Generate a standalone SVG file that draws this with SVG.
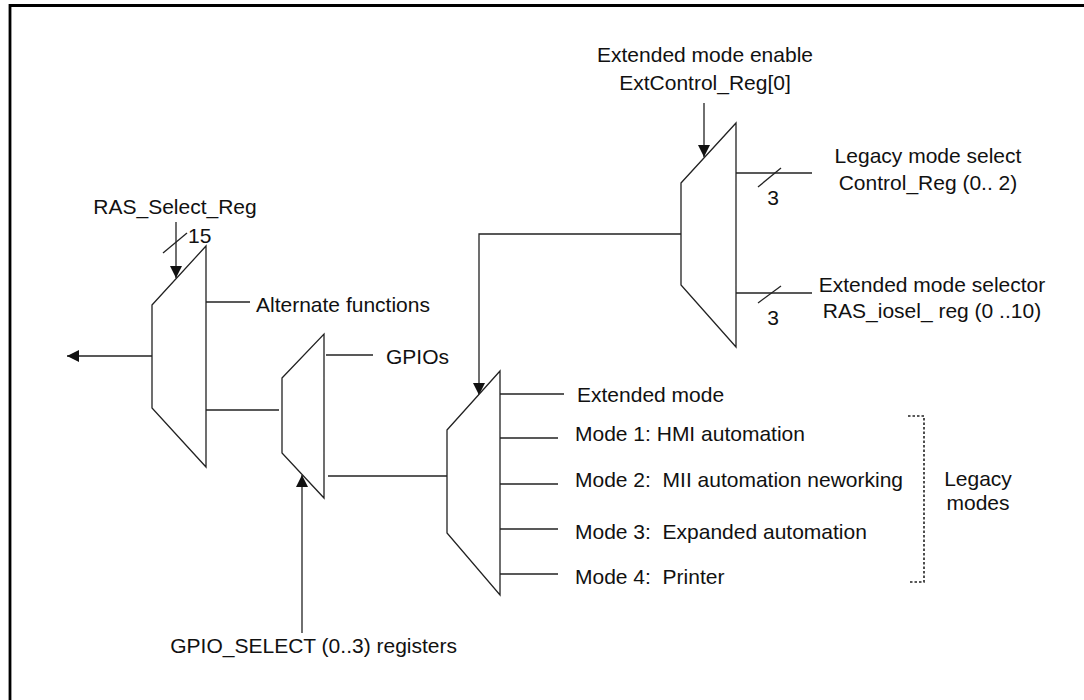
<svg xmlns="http://www.w3.org/2000/svg" width="1084" height="700" viewBox="0 0 1084 700">
<style>
.ln{fill:none;stroke:#222;stroke-width:1.3}
.mux{fill:#fff;stroke:#222;stroke-width:1.3}
.t{font-family:"Liberation Sans",Arial,sans-serif;font-size:21px;fill:#111;white-space:pre}
.m{text-anchor:middle}
.e{text-anchor:end}
.dot{fill:none;stroke:#222;stroke-width:1.6;stroke-dasharray:2.5 2}
</style>
<defs>
<marker id="ah" viewBox="0 0 12 12" refX="12" refY="6" markerWidth="12" markerHeight="12" markerUnits="userSpaceOnUse" orient="auto">
<path d="M0,0 L12,6 L0,12 Z" fill="#111"/>
</marker>
</defs>
<rect width="1084" height="700" fill="#fff"/>
<g id="frame">
<path d="M10,700 V5.5 H1084" fill="none" stroke="#000" stroke-width="2.8"/>
</g>
<g id="connectors">
<line class="ln" x1="152" y1="356" x2="67" y2="356" marker-end="url(#ah)"/>
<line class="ln" x1="176" y1="222" x2="176" y2="278" marker-end="url(#ah)"/>
<line class="ln" x1="163" y1="253" x2="187" y2="233"/>
<line class="ln" x1="206" y1="302" x2="250" y2="302"/>
<line class="ln" x1="206" y1="410" x2="279" y2="410"/>
<line class="ln" x1="326" y1="355" x2="373" y2="355"/>
<line class="ln" x1="302" y1="633" x2="302" y2="475" marker-end="url(#ah)"/>
<line class="ln" x1="328" y1="476" x2="448" y2="476"/>
<polyline class="ln" points="681,234 479,234 479,395" marker-end="url(#ah)"/>
<line class="ln" x1="704" y1="103" x2="704" y2="157" marker-end="url(#ah)"/>
<line class="ln" x1="736" y1="173" x2="812" y2="173"/>
<line class="ln" x1="758" y1="187" x2="781" y2="168"/>
<line class="ln" x1="736" y1="293" x2="812" y2="293"/>
<line class="ln" x1="758" y1="303" x2="781" y2="286"/>
<line class="ln" x1="500" y1="394" x2="564" y2="394"/>
<line class="ln" x1="500" y1="438" x2="558" y2="438"/>
<line class="ln" x1="500" y1="484" x2="558" y2="484"/>
<line class="ln" x1="500" y1="529" x2="558" y2="529"/>
<line class="ln" x1="500" y1="574" x2="558" y2="574"/>
<polyline class="dot" points="908,416 924,416 924,582 908,582"/>
</g>
<g id="mux-left">
<polygon class="mux" points="152,305 206,246 206,467 152,408"/>
<text class="t m" x="175" y="214">RAS_Select_Reg</text>
<text class="t" x="188" y="243">15</text>
<text class="t" x="256" y="312">Alternate functions</text>
</g>
<g id="mux-gpio">
<polygon class="mux" points="282,378 324,334 324,498 282,453"/>
<text class="t" x="386" y="364">GPIOs</text>
<text class="t e" x="457" y="653">GPIO_SELECT (0..3) registers</text>
</g>
<g id="mux-mid">
<polygon class="mux" points="447,430 500,371 500,595 447,533"/>
<text class="t" x="577" y="402">Extended mode</text>
<text class="t" x="575" y="441">Mode 1: HMI automation</text>
<text class="t" x="575" y="487" xml:space="preserve">Mode 2:  MII automation neworking</text>
<text class="t" x="575" y="539" xml:space="preserve">Mode 3:  Expanded automation</text>
<text class="t" x="575" y="584" xml:space="preserve">Mode 4:  Printer</text>
</g>
<g id="legacy-label">
<text class="t m" x="978" y="486">Legacy</text>
<text class="t m" x="978" y="510">modes</text>
</g>
<g id="mux-top">
<polygon class="mux" points="681,183 736,123 736,347 681,285"/>
<text class="t m" x="705" y="62">Extended mode enable</text>
<text class="t m" x="705" y="90">ExtControl_Reg[0]</text>
<text class="t m" x="773" y="205">3</text>
<text class="t m" x="773" y="325">3</text>
<text class="t m" x="928" y="163">Legacy mode select</text>
<text class="t m" x="928" y="190">Control_Reg (0.. 2)</text>
<text class="t m" x="932" y="292">Extended mode selector</text>
<text class="t m" x="932" y="318">RAS_iosel_ reg (0 ..10)</text>
</g>
</svg>
